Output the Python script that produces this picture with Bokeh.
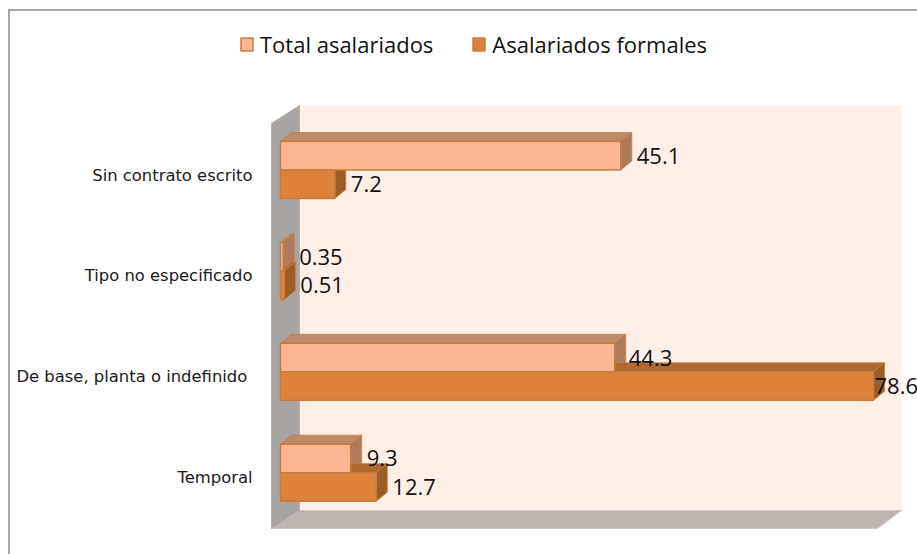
from bokeh.plotting import figure
from bokeh.embed import file_html
from bokeh.resources import INLINE
from bokeh.models import Range1d, FixedTicker, Legend, LegendItem
from bokeh.core.properties import value

categories = ["Sin contrato escrito", "Tipo no especificado", "De base, planta o indefinido ", "Temporal"]
total_asalariados = [45.1, 0.35, 44.3, 9.3]
asalariados_formales = [7.2, 0.51, 78.6, 12.7]
total_labels = ["45.1", "0.35", "44.3", "9.3"]
formal_labels = ["7.2", "0.51", "78.6", "12.7"]

# layout constants (page pixels)
W, H = 917, 554
FRAME_L, FRAME_R, FRAME_T, FRAME_B = 232, W, 20, H - 6
PX_X = 7.545     # px per unit
ZERO_X = 280.0
PX_Y = 100.9     # px per category
CAT0_Y = 169.5
BAR_H = 28.5 / PX_Y


def vx(px):
    return (px - ZERO_X) / PX_X


def vy(py):
    return (py - CAT0_Y) / PX_Y


DX, DY = 11 / PX_X, 9 / PX_Y

C_T_FRONT, C_T_TOP, C_T_SIDE = "#FDB692", "#BE8A68", "#AC7B5E"
C_F_FRONT, C_F_TOP, C_F_SIDE = "#DC823A", "#B0682E", "#9A5C28"
C_EDGE = "#C77C3E"
C_WALL, C_FLOOR, C_BACK = "#A8A4A2", "#BEB5B1", "#FEEFE8"
C_BORDER = "#A6A6A6"

p = figure(
    width=W, height=H, output_backend="svg", toolbar_location=None,
    x_range=Range1d(vx(FRAME_L), vx(FRAME_R)),
    y_range=Range1d(vy(FRAME_B), vy(FRAME_T)),
    min_border_left=FRAME_L, min_border_right=0,
    min_border_top=FRAME_T, min_border_bottom=H - FRAME_B,
    outline_line_color=None, background_fill_color=None, border_fill_color=None,
)
# chart frame: only its top and left edges fall inside the picture
p.styles = {
    "background": (
        f"linear-gradient({C_BORDER},{C_BORDER}) 8px 9px/2px 100% no-repeat, "
        f"linear-gradient({C_BORDER},{C_BORDER}) 8px 9px/100% 2px no-repeat"
    )
}
p.grid.visible = False
p.xaxis.visible = False

ax = p.yaxis[0]
tick_pos = [i + 0.05 for i in range(len(categories))]
ax.ticker = FixedTicker(ticks=tick_pos)
ax.major_label_overrides = {t: c for t, c in zip(tick_pos, categories)}
ax.axis_line_color = None
ax.major_tick_line_color = None
ax.minor_tick_line_color = None
ax.major_label_standoff = -26
ax.major_label_text_font = "DejaVu Sans"
ax.major_label_text_font_size = "16.4px"
ax.major_label_text_color = "#1a1a1a"

# chart walls (decoration)
p.patch([vx(299), vx(901), vx(901), vx(299)], [vy(105), vy(105), vy(510), vy(510)],
        fill_color=C_BACK, line_color=None)
p.patch([vx(271), vx(299), vx(901), vx(877)], [vy(528), vy(510), vy(510), vy(528)],
        fill_color=C_FLOOR, line_color="#CFC8C4", line_width=1)
p.patch([vx(271), vx(299), vx(299), vx(271)], [vy(123), vy(105), vy(510), vy(528)],
        fill_color=C_WALL, line_color="#B5B1AF", line_width=1)


def faces(vals, offset, top, side):
    tx, ty, sx, sy = [], [], [], []
    for i, v in enumerate(vals):
        y_top = i + offset
        y_bot = y_top + BAR_H
        tx.append([0, DX, v + DX, v])
        ty.append([y_top, y_top - DY, y_top - DY, y_top])
        sx.append([v, v + DX, v + DX, v])
        sy.append([y_top, y_top - DY, y_bot - DY, y_bot])
    p.patches(tx, ty, fill_color=top, line_color=C_EDGE, line_width=1, line_alpha=0.8)
    p.patches(sx, sy, fill_color=side, line_color=C_EDGE, line_width=1, line_alpha=0.8)


cats = list(range(len(categories)))
faces(total_asalariados, -BAR_H, C_T_TOP, C_T_SIDE)
faces(asalariados_formales, 0, C_F_TOP, C_F_SIDE)
r_total = p.quad(left=0, right=total_asalariados, top=[i - BAR_H for i in cats], bottom=cats,
                 fill_color=C_T_FRONT, line_color=C_EDGE, line_width=1.5)
r_formal = p.quad(left=0, right=asalariados_formales, top=cats, bottom=[i + BAR_H for i in cats],
                  fill_color=C_F_FRONT, line_color=C_EDGE, line_width=1.5)

# data labels
font = value("Open Sans")
total_dx = [16, 16, 14, 16]
formal_dx = [16, 16, 1, 16]
p.text(x=total_asalariados, y=[i - BAR_H / 2 for i in cats], text=total_labels,
       x_offset=total_dx, y_offset=0, text_font=font, text_font_size="22px",
       text_align="left", text_baseline="middle", text_color="#111111")
p.text(x=asalariados_formales, y=[i + BAR_H / 2 for i in cats], text=formal_labels,
       x_offset=formal_dx, y_offset=0, text_font=font, text_font_size="22px",
       text_align="left", text_baseline="middle", text_color="#111111")

legend = Legend(
    items=[LegendItem(label="Total asalariados", renderers=[r_total]),
           LegendItem(label="Asalariados formales", renderers=[r_formal])],
    location=(239 - FRAME_L, FRAME_B - 59),
    orientation="horizontal", padding=0, margin=0, spacing=38,
    glyph_width=15, glyph_height=16, label_standoff=6,
    label_text_font="Open Sans", label_text_font_size="22px", label_text_color="#111111",
    border_line_color=None, background_fill_color=None, background_fill_alpha=0,
)
p.add_layout(legend)

open("out.html", "w").write(file_html(p, INLINE))
